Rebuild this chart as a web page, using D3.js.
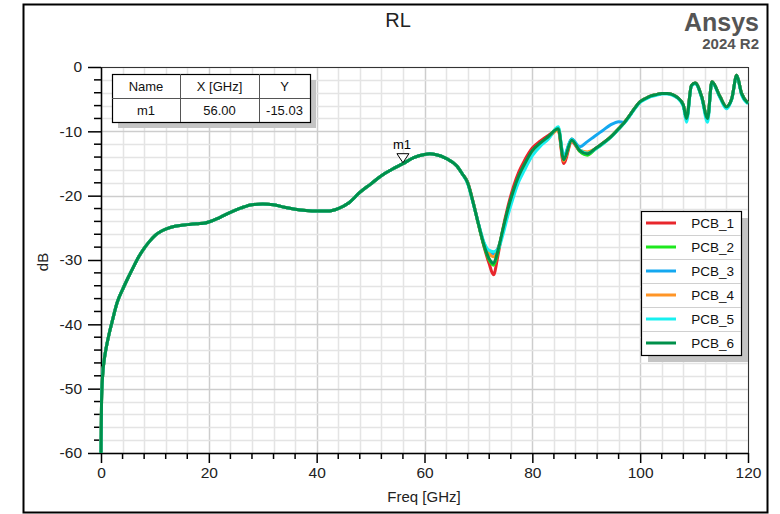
<!DOCTYPE html>
<html>
<head>
<meta charset="utf-8">
<script src="https://cdn.jsdelivr.net/npm/d3@7"></script>
<style>
body { margin: 0; background: #fff; }
text { font-family: "Liberation Sans", Arial, sans-serif; }
</style>
</head>
<body>
<svg id="chart" width="780" height="514"></svg>
<script>
// series names and colours
var seriesNames = ["PCB_1", "PCB_2", "PCB_3", "PCB_4", "PCB_5", "PCB_6"];
var seriesColors = ["#e8262c", "#1ee81e", "#14a8f0", "#ff9526", "#18f0f0", "#00904a"];

// 0..67 GHz, all six curves sit on top of each other
var freqLow = [0, 0.1, 0.3, 0.6, 1, 1.5, 2, 3, 4, 5, 6, 7, 8, 9, 10, 11, 12, 13, 14, 15, 16, 17, 18, 19, 20,
  22, 24, 26, 28, 30, 32, 34, 36, 38, 40, 42, 44, 46, 48, 50, 52, 54, 56, 58, 60, 61, 62, 64, 66, 67];
var rlLow = [-60, -52, -48, -45.5, -43.5, -41.5, -39.8, -36.6, -34.6, -32.8, -31.1, -29.5, -28.2, -27.1, -26.2,
  -25.6, -25.2, -24.9, -24.7, -24.6, -24.5, -24.4, -24.35, -24.3, -24.1,
  -23.4, -22.6, -21.9, -21.4, -21.3, -21.4, -21.8, -22.1, -22.3, -22.4, -22.4, -22.0, -21.1, -19.5,
  -18.2, -16.9, -15.9, -15.03, -14.1, -13.6, -13.5, -13.6, -14.2, -15.4, -16.6];

// 68..97 GHz, where the boards differ
var freqMid = [68, 69, 70, 71, 72, 72.8, 73.6, 74.5, 75.5, 76.5, 77.5, 78.5, 80, 81.5, 83, 84.8, 85.8,
  87.3, 88.8, 90.2, 91.5, 93, 94.5, 96, 97];
var rlMidPCB1 = [-17.9, -20.9, -24.4, -27.8, -30.6, -32.3, -29.4, -25.3, -21.6, -18.6, -16.3, -14.6, -12.6,
  -11.5, -10.6, -9.8, -15.0, -11.6, -13.1, -13.6, -12.8, -11.9, -10.9, -9.6, -8.7];
var rlMidPCB2 = [-18.0, -21.0, -24.5, -27.7, -30.0, -30.8, -28.8, -25.5, -22.1, -19.3, -17.0, -15.3, -13.1,
  -11.9, -10.9, -9.4, -14.2, -11.2, -13.1, -13.7, -12.9, -12.0, -10.9, -9.6, -8.7];
var rlMidPCB3 = [-18.0, -21.0, -24.3, -27.3, -28.8, -29.0, -28.2, -25.8, -22.6, -19.8, -17.5, -15.7, -13.4,
  -12.0, -11.0, -9.7, -13.8, -11.2, -12.4, -11.6, -10.8, -9.9, -9.0, -8.5, -8.6];
var rlMidPCB4 = [-18.0, -21.0, -24.4, -27.4, -29.0, -29.5, -28.4, -25.6, -22.3, -19.5, -17.2, -15.6, -13.5,
  -12.1, -11.0, -9.8, -14.6, -11.5, -12.9, -13.2, -12.8, -11.9, -10.9, -9.6, -8.7];
var rlMidPCB5 = [-18.1, -21.1, -24.3, -27.2, -28.5, -28.7, -28.4, -26.2, -23.0, -20.2, -17.8, -16.1, -13.8,
  -12.3, -11.2, -9.3, -14.0, -11.3, -12.9, -13.4, -12.9, -12.0, -11.0, -9.7, -8.8];
var rlMidPCB6 = [-18.0, -21.0, -24.4, -27.6, -29.8, -30.5, -28.6, -25.4, -22.0, -19.2, -16.9, -15.2, -13.0,
  -11.8, -10.8, -9.6, -14.4, -11.4, -13.0, -13.5, -12.8, -11.9, -10.9, -9.6, -8.7];

// 98..120 GHz, overlapping again
var freqHigh = [98, 99, 100, 101, 102, 103, 104, 105, 106, 107, 108, 108.6, 109.5, 110.2, 111.4, 112.5,
  113.3, 114.8, 116, 117, 117.9, 118.8, 120];
var rlHigh = [-7.6, -6.4, -5.4, -4.9, -4.5, -4.3, -4.1, -4.1, -4.3, -4.8, -5.9, -8.0, -2.9, -2.5, -4.6, -8.0,
  -2.3, -4.6, -6.2, -4.9, -1.3, -4.1, -5.6];
var rlHighPCB5 = [-7.7, -6.5, -5.5, -5.0, -4.6, -4.4, -4.2, -4.2, -4.4, -4.9, -6.1, -8.6, -3.0, -2.6, -4.8, -8.6,
  -2.4, -4.8, -6.5, -5.0, -1.4, -4.3, -5.7];

var rlMid = [rlMidPCB1, rlMidPCB2, rlMidPCB3, rlMidPCB4, rlMidPCB5, rlMidPCB6];
var rlTop = [rlHigh, rlHigh, rlHigh, rlHigh, rlHighPCB5, rlHigh];

var xTicks = [0, 20, 40, 60, 80, 100, 120];
var yTicks = [0, -10, -20, -30, -40, -50, -60];

// marker m1
var markerName = "m1";
var markerX = 56.00;
var markerY = -15.03;

var freqAll = freqLow.concat(freqMid, freqHigh);
var series = seriesNames.map(function(n, i) {
  var vals = rlLow.concat(rlMid[i], rlTop[i]);
  return { name: n, color: seriesColors[i],
    points: freqAll.map(function(f, j) { return [f, vals[j]]; }) };
});

var svg = d3.select("#chart");
var pL = 101, pR = 748, pT = 67, pB = 453;

var x = d3.scaleLinear().domain([0, 120]).range([pL, pR]);
var y = d3.scaleLinear().domain([-60, 0]).range([pB, pT]);

// outer frame
svg.append("rect")
  .attr("x", 23.5).attr("y", 4.5).attr("width", 744).attr("height", 508)
  .attr("fill", "#fff").attr("stroke", "#000").attr("stroke-width", 2);

// grid
var grid = svg.append("g");
grid.selectAll(".vmin").data(d3.range(0, 121, 4))
  .enter().append("line")
  .attr("x1", function(d) { return Math.round(x(d)) + 0.5; })
  .attr("x2", function(d) { return Math.round(x(d)) + 0.5; })
  .attr("y1", pT).attr("y2", pB)
  .attr("stroke", function(d) { return d % 20 == 0 ? "#cdcdcd" : "#e4e4e4"; })
  .attr("stroke-width", 1.5);
grid.selectAll(".hmin").data(d3.range(-60, 1, 2))
  .enter().append("line")
  .attr("y1", function(d) { return Math.round(y(d)) + 0.5; })
  .attr("y2", function(d) { return Math.round(y(d)) + 0.5; })
  .attr("x1", pL).attr("x2", pR)
  .attr("stroke", function(d) { return d % 10 == 0 ? "#cdcdcd" : "#e4e4e4"; })
  .attr("stroke-width", 1.5);

// plot border
svg.append("rect")
  .attr("x", pL + 0.5).attr("y", pT + 0.5)
  .attr("width", pR - pL).attr("height", pB - pT)
  .attr("fill", "none").attr("stroke", "#333").attr("stroke-width", 1);

// axes (plain hyphen for negatives, like the original)
var fmt = function(d) { return String(d); };
var xAxis = d3.axisBottom(x).tickValues(xTicks).tickFormat(fmt).tickSize(10).tickSizeOuter(0).tickPadding(4);
var yAxis = d3.axisLeft(y).tickValues(yTicks).tickFormat(fmt).tickSize(13).tickSizeOuter(0).tickPadding(6);

var gx = svg.append("g").attr("transform", "translate(0," + pB + ")").call(xAxis);
var gy = svg.append("g").attr("transform", "translate(" + pL + ",0)").call(yAxis);
[gx, gy].forEach(function(g) {
  g.select(".domain").attr("stroke", "#000").attr("stroke-width", 1.5);
  g.selectAll(".tick line").attr("stroke", "#000").attr("stroke-width", 1.5);
  g.selectAll(".tick text").attr("font-size", 15.5).attr("fill", "#222")
    .attr("font-family", "'Liberation Sans', Arial, sans-serif");
});
// minor ticks
svg.append("g").selectAll("line").data(d3.range(0, 121, 4).filter(function(d) { return d % 20 != 0; }))
  .enter().append("line")
  .attr("x1", function(d) { return x(d); }).attr("x2", function(d) { return x(d); })
  .attr("y1", pB).attr("y2", pB + 6)
  .attr("stroke", "#000").attr("stroke-width", 1.5);
svg.append("g").selectAll("line").data(d3.range(-60, 1, 2).filter(function(d) { return d % 10 != 0; }))
  .enter().append("line")
  .attr("y1", function(d) { return y(d); }).attr("y2", function(d) { return y(d); })
  .attr("x1", pL).attr("x2", pL - 7)
  .attr("stroke", "#000").attr("stroke-width", 1.5);

// curves
var line = d3.line()
  .x(function(d) { return x(d[0]); })
  .y(function(d) { return y(d[1]); })
  .curve(d3.curveMonotoneX);

svg.append("g").selectAll("path").data(series)
  .enter().append("path")
  .attr("d", function(d) { return line(d.points); })
  .attr("fill", "none")
  .attr("stroke", function(d) { return d.color; })
  .attr("stroke-width", 3)
  .attr("stroke-linejoin", "round");

// marker
var mx = x(markerX), my = y(markerY);
svg.append("path")
  .attr("d", "M" + (mx - 6) + "," + (my - 10) + "L" + (mx + 6) + "," + (my - 10) + "L" + mx + "," + (my - 1) + "Z")
  .attr("fill", "#fff").attr("stroke", "#000").attr("stroke-width", 1);
svg.append("text").attr("x", mx - 1).attr("y", my - 15)
  .attr("text-anchor", "middle").attr("font-size", 13).text(markerName);

// marker table
var tbl = svg.append("g");
var tx = 112, ty = 74, colW = [68, 79, 51], rowH = 24;
tbl.append("rect").attr("x", tx + 6).attr("y", ty + 6).attr("width", 198).attr("height", 48).attr("fill", "#c4c4c4");
tbl.append("rect").attr("x", tx + 0.5).attr("y", ty + 0.5).attr("width", 198).attr("height", 48)
  .attr("fill", "#fff").attr("stroke", "#000").attr("stroke-width", 1.2);
var cells = [["Name", "X [GHz]", "Y"], [markerName, markerX.toFixed(2), markerY.toFixed(2)]];
var cx = tx;
colW.forEach(function(w, i) {
  if (i > 0) {
    tbl.append("line").attr("x1", cx + 0.5).attr("x2", cx + 0.5).attr("y1", ty).attr("y2", ty + 48)
      .attr("stroke", "#555");
  }
  cells.forEach(function(row, r) {
    tbl.append("text").attr("x", cx + w / 2).attr("y", ty + r * rowH + 17)
      .attr("text-anchor", "middle").attr("font-size", 13).attr("fill", "#111").text(row[i]);
  });
  cx += w;
});
tbl.append("line").attr("x1", tx).attr("x2", tx + 198).attr("y1", ty + 24.5).attr("y2", ty + 24.5).attr("stroke", "#555");

// legend
var lg = svg.append("g");
var lx = 641, ly = 211, lw = 100, lrow = 24;
lg.append("rect").attr("x", lx + 7).attr("y", ly + 7).attr("width", lw).attr("height", lrow * 6).attr("fill", "#c4c4c4");
lg.append("rect").attr("x", lx + 0.5).attr("y", ly + 0.5).attr("width", lw).attr("height", lrow * 6)
  .attr("fill", "#fff").attr("stroke", "#000").attr("stroke-width", 1.2);
series.forEach(function(s, i) {
  var yy = ly + i * lrow + lrow / 2;
  if (i > 0) {
    lg.append("line").attr("x1", lx + 1).attr("x2", lx + lw).attr("y1", ly + i * lrow + 0.5).attr("y2", ly + i * lrow + 0.5)
      .attr("stroke", "#d0d0d0");
  }
  lg.append("line").attr("x1", lx + 5).attr("x2", lx + 35).attr("y1", yy).attr("y2", yy)
    .attr("stroke", s.color).attr("stroke-width", 3);
  lg.append("text").attr("x", lx + 93).attr("y", yy + 5).attr("text-anchor", "end")
    .attr("font-size", 13.5).attr("fill", "#111").text(s.name);
});

// titles
svg.append("text").attr("x", 398).attr("y", 27).attr("text-anchor", "middle")
  .attr("font-size", 20).attr("fill", "#222").text("RL");
svg.append("text").attr("x", 759).attr("y", 31).attr("text-anchor", "end")
  .attr("font-size", 25).attr("font-weight", "bold").attr("fill", "#555").text("Ansys");
svg.append("text").attr("x", 759).attr("y", 49).attr("text-anchor", "end")
  .attr("font-size", 15).attr("font-weight", "bold").attr("fill", "#555")
  .attr("font-family", "'Liberation Sans Narrow', 'Liberation Sans', Arial, sans-serif")
  .text("2024 R2");
svg.append("text").attr("x", 424).attr("y", 502).attr("text-anchor", "middle")
  .attr("font-size", 15).attr("fill", "#222").text("Freq [GHz]");
svg.append("text").attr("transform", "translate(48,262) rotate(-90)").attr("text-anchor", "middle")
  .attr("font-size", 15).attr("fill", "#222").text("dB");
</script>
</body>
</html>
